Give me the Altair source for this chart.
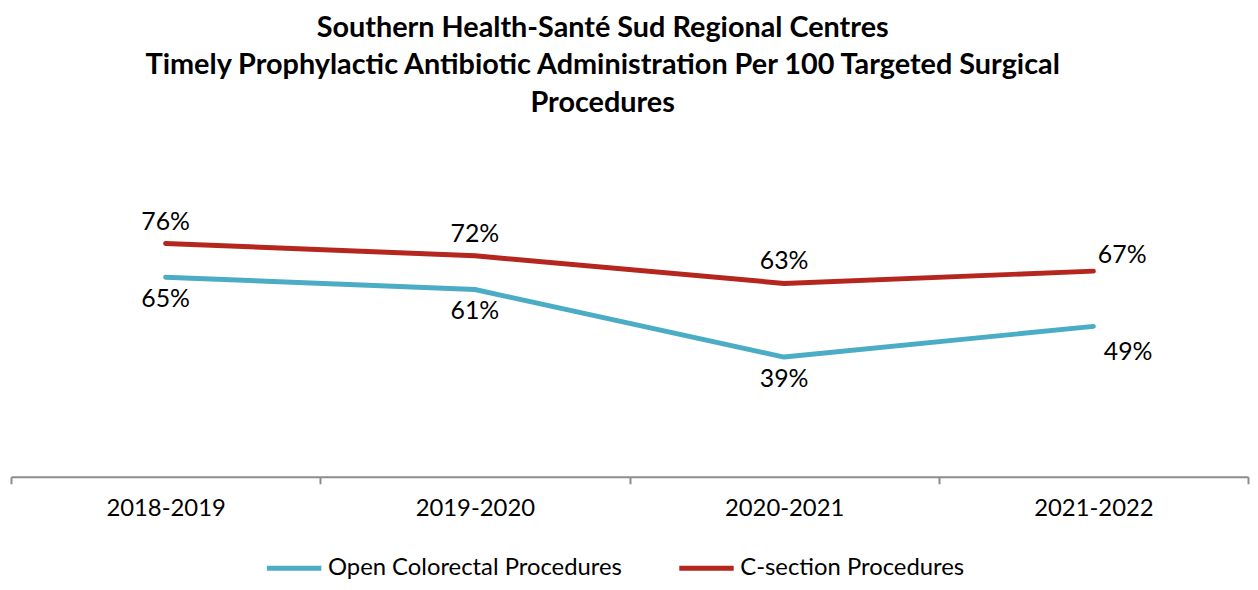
import altair as alt
import pandas as pd

years = ["2018-2019", "2019-2020", "2020-2021", "2021-2022"]
colorectal = [65, 61, 39, 49]
csection = [76, 72, 63, 67]
series_names = ["Open Colorectal Procedures", "C-section Procedures"]
series_colors = ["#4BACC6", "#B5261E"]

rows = []
for y, v in zip(years, colorectal):
    rows.append({"year": y, "value": v, "series": series_names[0], "label": f"{v}%"})
for y, v in zip(years, csection):
    rows.append({"year": y, "value": v, "series": series_names[1], "label": f"{v}%"})
df = pd.DataFrame(rows)

FONT = "Lato"
x_enc = alt.X("year:N", sort=years,
              scale=alt.Scale(type="band", paddingInner=0, paddingOuter=0),
              axis=alt.Axis(title=None, labelFontSize=24, labelFont=FONT, labelColor="#000000",
                            labelPadding=13, tickBand="extent", tickSize=7, tickColor="#8c8c8c",
                            domainColor="#8c8c8c", domainWidth=2, tickWidth=2, labelAngle=0,
                            grid=False))
y_enc = alt.Y("value:Q", scale=alt.Scale(domain=[0, 100]), axis=None)

base = alt.Chart(df)

lines = base.mark_line(strokeWidth=5, strokeCap="round", strokeJoin="round").encode(
    x=x_enc, y=y_enc,
    color=alt.Color("series:N", sort=series_names,
                    scale=alt.Scale(domain=series_names, range=series_colors),
                    legend=alt.Legend(title=None, orient="none", direction="horizontal",
                                      legendX=255, legendY=371, symbolType="stroke",
                                      symbolSize=3000, symbolStrokeWidth=5,
                                      labelFontSize=24, labelFont=FONT, labelColor="#000000",
                                      labelLimit=500, columnPadding=46, labelOffset=4))
)

txt_kw = dict(fontSize=25, font=FONT, color="#000000")
last = years[3]
red_name = series_names[1]
blue_name = series_names[0]

red_early = base.transform_filter(
    f"datum.series == '{red_name}' && datum.year != '{last}'"
).mark_text(dy=-22, **txt_kw).encode(x=x_enc, y=y_enc, text="label:N")
blue_early = base.transform_filter(
    f"datum.series == '{blue_name}' && datum.year != '{last}'"
).mark_text(dy=22, **txt_kw).encode(x=x_enc, y=y_enc, text="label:N")
red_last = base.transform_filter(
    f"datum.series == '{red_name}' && datum.year == '{last}'"
).mark_text(dx=29, dy=-16, **txt_kw).encode(x=x_enc, y=y_enc, text="label:N")
blue_last = base.transform_filter(
    f"datum.series == '{blue_name}' && datum.year == '{last}'"
).mark_text(dx=35, dy=26, **txt_kw).encode(x=x_enc, y=y_enc, text="label:N")

chart = alt.layer(lines, red_early, blue_early, red_last, blue_last).properties(
    width=1245, height=309,
    autosize=alt.AutoSizeParams(type="none"),
    padding={"left": 3, "top": 161, "right": 2, "bottom": 104},
    title=alt.TitleParams(
        text=["Southern Health-Santé Sud Regional Centres",
              "Timely Prophylactic Antibiotic Administration Per 100 Targeted Surgical",
              "Procedures"],
        font=FONT, fontSize=29, fontWeight="bold", color="#000000",
        anchor="middle", dx=-27, lineHeight=38, offset=52),
).configure_view(stroke=None)

chart.save("out.html", embed_options={"renderer": "svg", "actions": False})
